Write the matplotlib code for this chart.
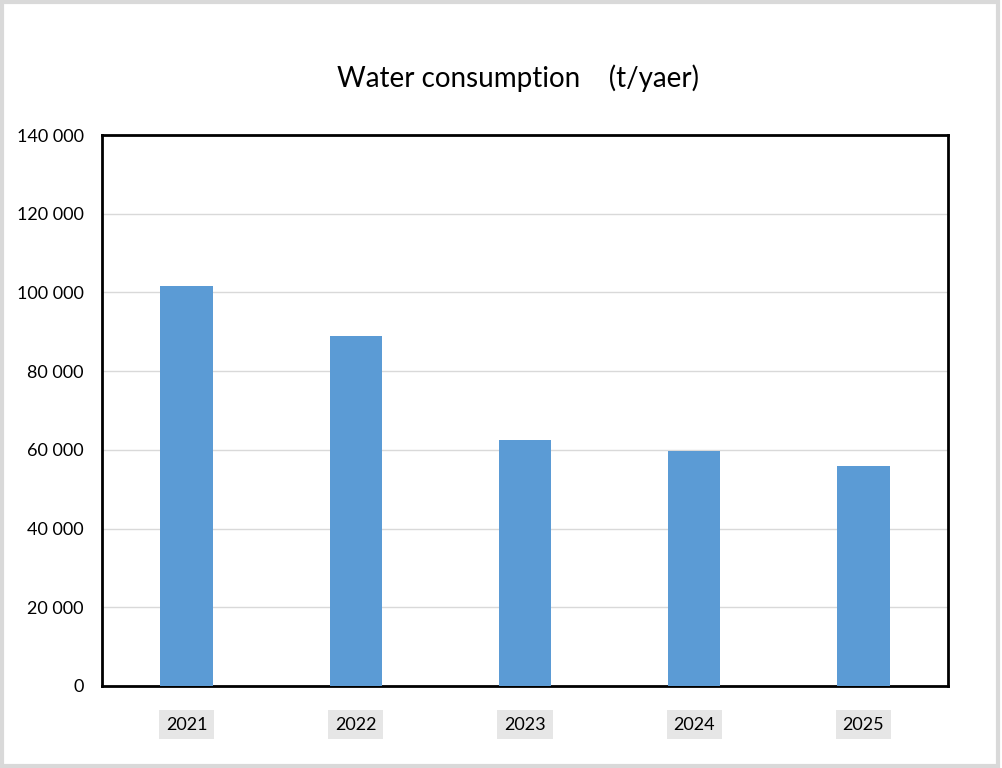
import matplotlib.pyplot as plt
from matplotlib.patches import Rectangle
from matplotlib.ticker import FuncFormatter

years = ['2021', '2022', '2023', '2024', '2025']
consumption = [101700, 89000, 62500, 59700, 55900]

plt.rcParams['font.family'] = ['Lato', 'DejaVu Sans']

fig = plt.figure(figsize=(10.02, 7.68), dpi=100)
fig.patch.set_facecolor('white')
ax = fig.add_axes([0.1018, 0.1068, 0.8443, 0.7174])

ax.bar(years, consumption, width=0.31, color='#5B9BD5', zorder=3)

ax.set_ylim(0, 140000)
ax.set_xlim(-0.5, 4.5)
ax.set_yticks(range(0, 140001, 20000))
ax.yaxis.set_major_formatter(FuncFormatter(lambda v, p: f'{int(v):,}'.replace(',', ' ')))
ax.grid(axis='y', color='#D9D9D9', lw=1, zorder=0)
ax.tick_params(axis='both', length=0, labelsize=13, colors='black')
ax.tick_params(axis='y', pad=13)
ax.tick_params(axis='x', pad=22)
for lbl in ax.get_xticklabels():
    lbl.set_bbox(dict(facecolor='#E6E6E6', edgecolor='none', pad=5))

for s in ax.spines.values():
    s.set_color('black')
    s.set_linewidth(2)

fig.text(0.517, 0.898, 'Water consumption    (t/yaer)', ha='center', va='center',
         fontsize=20)

# light grey frame round the whole chart
fig.add_artist(Rectangle((0.002, 0.003), 0.994, 0.994, transform=fig.transFigure,
                         fill=False, edgecolor='#D9D9D9', lw=3))

fig.savefig('out.png', dpi=100, facecolor='white')
